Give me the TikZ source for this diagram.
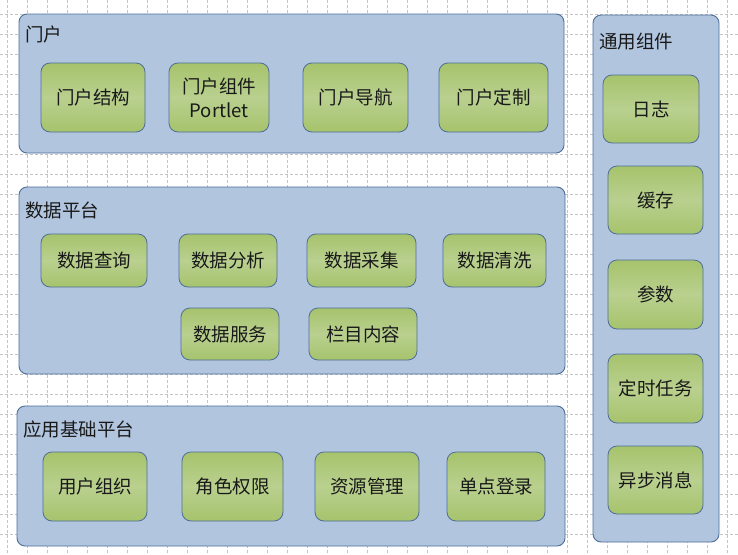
\documentclass[tikz,border=0pt]{standalone}
\usepackage{fontspec}
\setmainfont{Noto Sans CJK SC}
\usetikzlibrary{positioning}

\definecolor{panelfill}{HTML}{B1C5DE}
\definecolor{edgeblue}{HTML}{4E6E99}
\definecolor{greendark}{HTML}{A6C36C}
\definecolor{greenlight}{HTML}{B9D08F}
\definecolor{gridgray}{HTML}{C4C4C4}

\begin{document}
\begin{tikzpicture}[
            x=1pt, y=-1pt,
            panel/.style={draw=edgeblue, fill=panelfill, rounded corners=8pt, line width=0.9pt, inner sep=0pt},
            comp/.style={draw=edgeblue, top color=greendark, bottom color=greendark, middle color=greenlight,
                rounded corners=9pt, line width=0.8pt, inner sep=0pt, align=center, text=black!90,
                font=\fontsize{18.5pt}{24pt}\selectfont},
            title/.style={anchor=west, inner sep=0pt, text=black!90, font=\fontsize{18.5pt}{22pt}\selectfont},
            gridline/.style={gridgray, line width=0.8pt, dash pattern=on 2.5pt off 2.5pt}
        ]
            \useasboundingbox (0,0) rectangle (738,554);
            \fill[white] (0,0) rectangle (738,554);
            \foreach \gx in {7,27,...,727} \draw[gridline] (\gx,0) -- (\gx,554);
            \foreach \gy in {14.5,34.5,...,554} \draw[gridline] (0,\gy) -- (738,\gy);

            % panels
            \node[panel, minimum width=545pt, minimum height=139pt] (portal) at (291.5,83.5) {};
            \node[panel, minimum width=546pt, minimum height=187pt] (data) at (292,280.5) {};
            \node[panel, minimum width=548pt, minimum height=140pt] (base) at (291,476) {};
            \node[panel, minimum width=126pt, minimum height=527pt] (common) at (656,278.5) {};

            \node[title] (portaltitle) at (25,34) {门户};
            \node[title] (datatitle) at (25,210) {数据平台};
            \node[title] (basetitle) at (23,429) {应用基础平台};
            \node[title] (commontitle) at (599,42) {通用组件};

            % portal
            \node[comp, minimum width=104pt, minimum height=69pt] (structure) at (93,97.5) {门户结构};
            \node[comp, minimum width=100pt, minimum height=69pt] (portlet) at (219,97.5) {门户组件\\Portlet};
            \node[comp, minimum width=105pt, minimum height=69pt] (navigation) at (355.5,97.5) {门户导航};
            \node[comp, minimum width=109pt, minimum height=69pt] (custom) at (493.5,97.5) {门户定制};

            % data platform
            \node[comp, minimum width=106pt, minimum height=53pt] (query) at (94,260.5) {数据查询};
            \node[comp, minimum width=98pt, minimum height=53pt] (analysis) at (228,260.5) {数据分析};
            \node[comp, minimum width=109pt, minimum height=53pt] (collect) at (361.5,260.5) {数据采集};
            \node[comp, minimum width=103pt, minimum height=53pt] (clean) at (494.5,260.5) {数据清洗};
            \node[comp, minimum width=98pt, minimum height=52pt] (service) at (230,334) {数据服务};
            \node[comp, minimum width=108pt, minimum height=52pt] (column) at (363,334) {栏目内容};

            % base platform
            \node[comp, minimum width=104pt, minimum height=69pt] (users) at (95,486.5) {用户组织};
            \node[comp, minimum width=101pt, minimum height=69pt] (roles) at (232.5,486.5) {角色权限};
            \node[comp, minimum width=104pt, minimum height=69pt] (resources) at (367,486.5) {资源管理};
            \node[comp, minimum width=98pt, minimum height=69pt] (sso) at (496,486.5) {单点登录};

            % common components
            \node[comp, minimum width=96pt, minimum height=68pt] (log) at (651,109) {日志};
            \node[comp, minimum width=95pt, minimum height=68pt] (cache) at (655.5,200) {缓存};
            \node[comp, minimum width=95pt, minimum height=69pt] (params) at (655.5,294.5) {参数};
            \node[comp, minimum width=95pt, minimum height=69pt] (timer) at (655.5,388.5) {定时任务};
            \node[comp, minimum width=95pt, minimum height=68pt] (async) at (655.5,480) {异步消息};
        \end{tikzpicture}
\end{document}
